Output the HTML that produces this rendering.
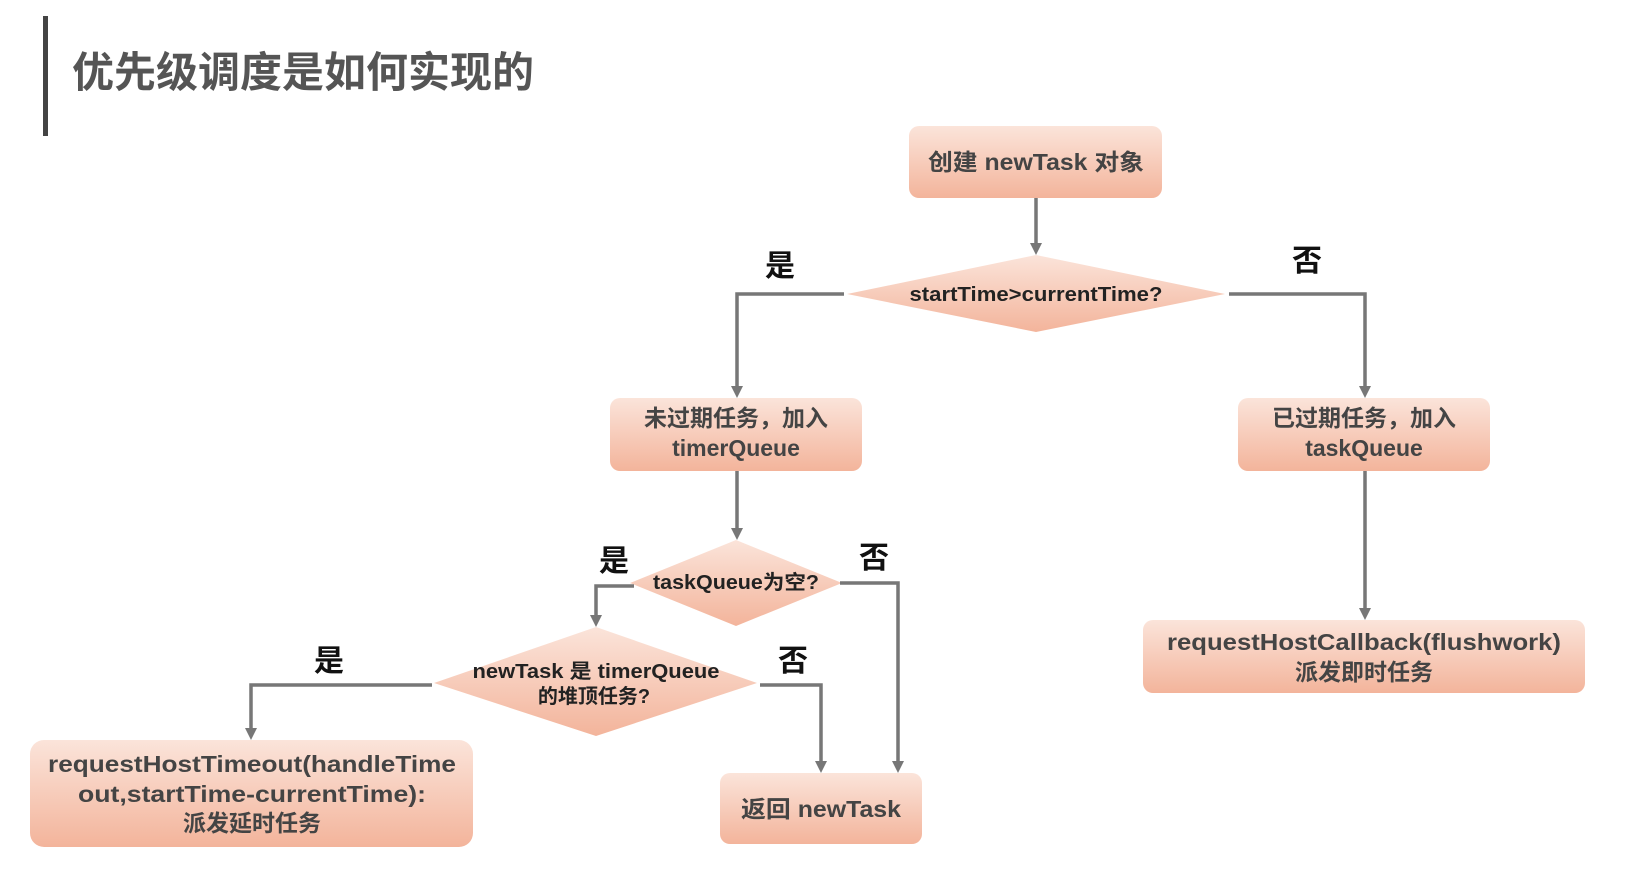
<!DOCTYPE html>
<html><head><meta charset="utf-8"><style>
html,body{margin:0;padding:0;background:#fff;}
svg{display:block;}
text{font-family:"Liberation Sans","Noto Sans CJK SC",sans-serif;font-weight:bold;}
</style></head><body>
<svg width="1643" height="870" viewBox="0 0 1643 870" xmlns="http://www.w3.org/2000/svg">
<defs>
<linearGradient id="g" x1="0" y1="0" x2="0" y2="1">
<stop offset="0" stop-color="#fbe4da"/><stop offset="1" stop-color="#f3b49b"/>
</linearGradient>
</defs>
<rect x="43" y="16" width="5" height="120" fill="#444"/>
<text x="72" y="87" font-size="42" fill="#555">优先级调度是如何实现的</text>

<g fill="url(#g)">
<rect x="909" y="126" width="253" height="72" rx="10"/>
<polygon points="847,294 1036,255 1225,294 1036,332"/>
<rect x="610" y="398" width="252" height="73" rx="10"/>
<rect x="1238" y="398" width="252" height="73" rx="10"/>
<polygon points="630,583 736,540 842,583 736,626"/>
<polygon points="434,683 596,627 757,683 596,736"/>
<rect x="30" y="740" width="443" height="107" rx="14"/>
<rect x="720" y="773" width="202" height="71" rx="10"/>
<rect x="1143" y="620" width="442" height="73" rx="10"/>
</g>

<g stroke="#777" stroke-width="3.5" fill="none">
<path d="M1036,198 V245"/>
<path d="M844,294 H737 V387"/>
<path d="M1229,294 H1365 V387"/>
<path d="M737,471 V529"/>
<path d="M1365,471 V609"/>
<path d="M634,586 H596 V616"/>
<path d="M840,583 H898 V762"/>
<path d="M432,685 H251 V729"/>
<path d="M760,685 H821 V762"/>
</g>
<g fill="#777">
<polygon points="1030,243 1042,243 1036,255"/>
<polygon points="731,386 743,386 737,398"/>
<polygon points="1359,386 1371,386 1365,398"/>
<polygon points="731,528 743,528 737,540"/>
<polygon points="1359,608 1371,608 1365,620"/>
<polygon points="590,615 602,615 596,627"/>
<polygon points="892,761 904,761 898,773"/>
<polygon points="245,728 257,728 251,740"/>
<polygon points="815,761 827,761 821,773"/>
</g>

<g font-size="30" fill="#111" text-anchor="middle">
<text x="780" y="276">是</text>
<text x="1307" y="271">否</text>
<text x="614" y="571">是</text>
<text x="874" y="568">否</text>
<text x="329" y="671">是</text>
<text x="793" y="671">否</text>
</g>

<g fill="#444" text-anchor="middle" font-size="23">
<text x="1036" y="170" textLength="216" lengthAdjust="spacingAndGlyphs">创建 newTask 对象</text>
<text x="736" y="426">未过期任务，加入</text>
<text x="736" y="456">timerQueue</text>
<text x="1364" y="426">已过期任务，加入</text>
<text x="1364" y="456">taskQueue</text>
<text x="252" y="772" textLength="408" lengthAdjust="spacingAndGlyphs">requestHostTimeout(handleTime</text>
<text x="252" y="802" textLength="348" lengthAdjust="spacingAndGlyphs">out,startTime-currentTime):</text>
<text x="252" y="831">派发延时任务</text>
<text x="821" y="817" textLength="160" lengthAdjust="spacingAndGlyphs">返回 newTask</text>
<text x="1364" y="650" textLength="394" lengthAdjust="spacingAndGlyphs">requestHostCallback(flushwork)</text>
<text x="1364" y="680">派发即时任务</text>
</g>
<g fill="#222" text-anchor="middle" font-size="20">
<text x="1036" y="301" textLength="253" lengthAdjust="spacingAndGlyphs">startTime&gt;currentTime?</text>
<text x="736" y="589" textLength="166" lengthAdjust="spacingAndGlyphs">taskQueue为空?</text>
<text x="596" y="678" textLength="247" lengthAdjust="spacingAndGlyphs">newTask 是 timerQueue</text>
<text x="594" y="703">的堆顶任务?</text>
</g>
</svg>
</body></html>
